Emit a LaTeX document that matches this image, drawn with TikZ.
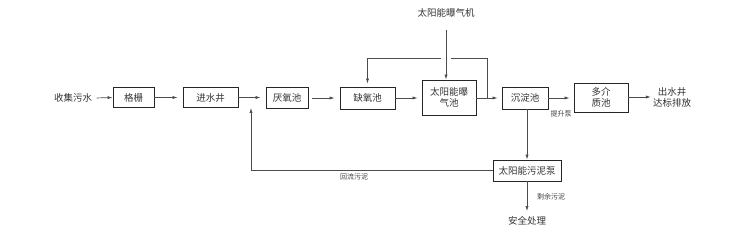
\documentclass[tikz,border=0pt]{standalone}
\usepackage{fontspec}
\newfontfamily\cjk{Noto Sans CJK SC}
\usetikzlibrary{arrows.meta,calc}
\begin{document}
\begin{tikzpicture}[x=1pt,y=-1pt,
  every node/.style={font=\cjk\fontsize{9.5}{11}\selectfont, text=black!80},
  box/.style={draw=black!85, line width=0.9pt, minimum width=#1, inner sep=0pt, align=center},
  lbl/.style={font=\cjk\fontsize{7}{8}\selectfont, text=black!75, inner sep=1pt},
  arr/.style={draw=black!70, line width=0.7pt, -{Latex[length=5pt,width=3.2pt]}},
  ln/.style={draw=black!70, line width=0.7pt}]
\useasboundingbox (0,0) rectangle (750,232);
% nodes
\node (src) at (73,98) {收集污水};
\node[box=41pt, minimum height=20pt] (gz) at (133.5,97.5) {格栅};
\node[box=55pt, minimum height=20pt] (js) at (210.5,97.5) {进水井};
\node[box=42pt, minimum height=21pt] (yy) at (287,98) {厌氧池};
\node[box=55pt, minimum height=22pt] (qy) at (367.5,98) {缺氧池};
\node[box=54pt, minimum height=35pt] (aer) at (449,97.5) {太阳能曝\\气池};
\node[box=46pt, minimum height=22pt] (cd) at (525,98) {沉淀池};
\node[box=54pt, minimum height=29pt] (dj) at (601,97.5) {多介\\质池};
\node[align=center, inner sep=0pt] (out) at (672,97) {出水井\\达标排放};
\node (mach) at (446,13) {太阳能曝气机};
\node[box=68pt, minimum height=21pt] (pump) at (527,170.5) {太阳能污泥泵};
\node (safe) at (527,221) {安全处理};
% labels
\node[lbl] (l1) at (561,114) {提升泵};
\node[lbl] (l2) at (354,177) {回流污泥};
\node[lbl] (l3) at (551,197) {剩余污泥};
% main flow
\draw[arr, shorten <=1pt] (src.east) -- (gz.west);
\draw[arr, shorten >=5pt] (gz.east) -- (js.west);
\draw[arr, shorten >=5pt] (js.east) -- (js.east -| yy.west);
\draw[arr, shorten <=4pt, shorten >=5pt] (yy.east) -- (qy.west);
\draw[arr, shorten >=4pt] (qy.east) -- (aer.west |- qy.east);
\draw[arr, shorten >=4pt] (aer.east |- cd.west) -- (cd.west);
\draw[arr, shorten >=4pt] (cd.east) -- (cd.east -| dj.west);
\draw[arr, shorten >=2pt] (dj.east |- out.west) -- (out.west);
% recirculation loop
\coordinate (lb) at (487,98);
\coordinate (lt) at (487,58);
\draw[arr, shorten >=3pt] (lb) -- (lt) -- (lt -| qy.north) -- (qy.north);
\coordinate (cross) at (mach.south |- lt);
\fill[white] ($(cross)+(-5,-1.5)$) rectangle ($(cross)+(5,1.5)$);
\draw[arr, shorten <=9pt] (mach.south) -- (aer.north -| mach.south);
% sludge
\draw[arr] (cd.south -| pump.north) -- (pump.north);
\coordinate (rb) at (251,170.5);
\coordinate (rt) at (251,98);
\draw[arr, shorten >=10pt] (pump.west) -- (rb) -- (rt);
\draw[arr, shorten >=2pt] (pump.south) -- (safe.north);
\end{tikzpicture}
\end{document}
